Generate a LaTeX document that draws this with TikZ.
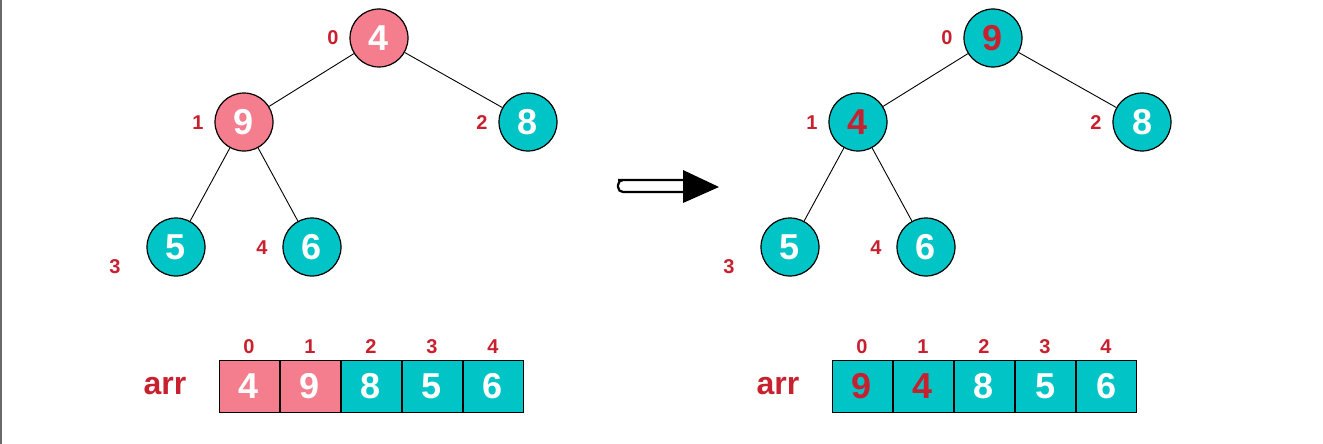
\documentclass[tikz,border=0pt]{standalone}
\usepackage{fontspec}
\setmainfont{Liberation Sans}
\usetikzlibrary{positioning}
\definecolor{heappink}{RGB}{244,125,142}
\definecolor{heapteal}{RGB}{0,196,198}
\definecolor{idxred}{RGB}{200,32,47}
\definecolor{edgegray}{RGB}{105,105,105}

\begin{document}
\begin{tikzpicture}[
    x=1pt, y=-1pt,
    tnode/.style={circle, draw=black, line width=1.2pt, fill=heapteal, minimum size=58pt, inner sep=0pt, text=white, font=\fontsize{36}{36}\selectfont\bfseries},
    cell/.style={rectangle, draw=black, line width=1pt, fill=heapteal, minimum width=60pt, minimum height=52pt, inner sep=0pt, text=white, font=\fontsize{36}{36}\selectfont\bfseries},
    hot/.style={fill=heappink},
    swapped/.style={text=idxred},
    idx/.style={inner sep=0pt, text=idxred, font=\fontsize{20}{20}\selectfont\bfseries},
    arrname/.style={inner sep=0pt, text=idxred, font=\fontsize{32}{32}\selectfont\bfseries},
    edge/.style={line width=0.9pt}
]
    \useasboundingbox (0,0) rectangle (1323,444);
    \draw[edgegray, line width=1.5pt] (0.75,0) -- (0.75,444);

    % before: 4 sits on top of 9
    \node[tnode, hot] (a0) at (379,38) {4};
    \node[tnode, hot] (a1) at (244,122) {9};
    \node[tnode] (a2) at (528,122) {8};
    \node[tnode] (a3) at (176,247) {5};
    \node[tnode] (a4) at (312,247) {6};
    \draw[edge] (a0) -- (a1);
    \draw[edge] (a0) -- (a2);
    \draw[edge] (a1) -- (a3);
    \draw[edge] (a1) -- (a4);
    \node[idx] (ai0) at (333,38) {0};
    \node[idx] (ai1) at (198,123) {1};
    \node[idx] (ai2) at (482,123) {2};
    \node[idx] (ai3) at (115,267) {3};
    \node[idx] (ai4) at (262,248) {4};

    \node[cell, hot] (ac0) at (249,386) {4};
    \node[cell, hot, right=0pt of ac0] (ac1) {9};
    \node[cell, right=0pt of ac1] (ac2) {8};
    \node[cell, right=0pt of ac2] (ac3) {5};
    \node[cell, right=0pt of ac3] (ac4) {6};
    \node[idx, above=6pt of ac0] {0};
    \node[idx, above=6pt of ac1] {1};
    \node[idx, above=6pt of ac2] {2};
    \node[idx, above=6pt of ac3] {3};
    \node[idx, above=6pt of ac4] {4};
    \node[arrname] (aname) at (165,386) {arr};

    % the arrow
    \coordinate (arrS) at (617,186);
    \coordinate (arrE) at (719,187);
    \draw[line width=2.2pt, rounded corners=5pt] (684,180) -- (623,180) -- (618,180) -- (618,192) -- (684,192);
    \fill (683,170) -- (arrE) -- (683,203) -- cycle;

    % after: 9 and 4 swapped
    \node[tnode, swapped] (b0) at (993,38) {9};
    \node[tnode, swapped] (b1) at (858,122) {4};
    \node[tnode] (b2) at (1142,122) {8};
    \node[tnode] (b3) at (790,247) {5};
    \node[tnode] (b4) at (926,247) {6};
    \draw[edge] (b0) -- (b1);
    \draw[edge] (b0) -- (b2);
    \draw[edge] (b1) -- (b3);
    \draw[edge] (b1) -- (b4);
    \node[idx] (bi0) at (947,38) {0};
    \node[idx] (bi1) at (812,123) {1};
    \node[idx] (bi2) at (1096,123) {2};
    \node[idx] (bi3) at (729,267) {3};
    \node[idx] (bi4) at (876,248) {4};

    \node[cell, swapped] (bc0) at (862,386) {9};
    \node[cell, swapped, right=0pt of bc0] (bc1) {4};
    \node[cell, right=0pt of bc1] (bc2) {8};
    \node[cell, right=0pt of bc2] (bc3) {5};
    \node[cell, right=0pt of bc3] (bc4) {6};
    \node[idx, above=6pt of bc0] {0};
    \node[idx, above=6pt of bc1] {1};
    \node[idx, above=6pt of bc2] {2};
    \node[idx, above=6pt of bc3] {3};
    \node[idx, above=6pt of bc4] {4};
    \node[arrname] (bname) at (778,386) {arr};
\end{tikzpicture}
\end{document}
